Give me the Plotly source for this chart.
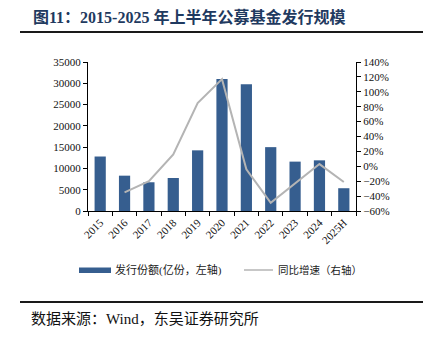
import plotly.graph_objects as go

categories = ["2015", "2016", "2017", "2018", "2019", "2020", "2021", "2022", "2023", "2024", "2025H"]
issuance = [12800, 8300, 6750, 7750, 14250, 31000, 29750, 15000, 11600, 11900, 5350]
yoy_cats = ["2016", "2017", "2018", "2019", "2020", "2021", "2022", "2023", "2024", "2025H"]
yoy = [-35, -20, 16, 85, 117, -4, -49, -23, 3, -21]

W, H = 427, 337
L, R, T, B = 88, 356, 62, 211

def px(x):
    return (x - L) / (R - L)

def py(y):
    return (B - y) / (B - T)

serif = "Liberation Serif, Times New Roman, Noto Sans CJK SC, serif"
cjk = "Liberation Serif, Noto Sans CJK SC, serif"

fig = go.Figure()
fig.add_trace(go.Bar(x=categories, y=issuance, marker=dict(color="#365E8F", line=dict(width=0)),
                     width=0.46, name="发行份额(亿份，左轴)", showlegend=False))
fig.add_trace(go.Scatter(x=yoy_cats, y=yoy, yaxis="y2", mode="lines",
                         line=dict(color="#B4B4B4", width=2), name="同比增速（右轴）", showlegend=False))

shapes = [
    dict(type="line", xref="paper", yref="paper", x0=px(20), x1=px(423), y0=py(32), y1=py(32),
         line=dict(color="#1a1a1a", width=2)),
    dict(type="line", xref="paper", yref="paper", x0=px(20), x1=px(423), y0=py(302), y1=py(302),
         line=dict(color="#1a1a1a", width=2)),
    dict(type="rect", xref="paper", yref="paper", x0=px(79), x1=px(111), y0=py(273), y1=py(267.5),
         fillcolor="#365E8F", line=dict(width=0)),
    dict(type="line", xref="paper", yref="paper", x0=px(244), x1=px(273), y0=py(270), y1=py(270),
         line=dict(color="#B4B4B4", width=1.5)),
]

annotations = [
    dict(text="<b>图11：2015-2025 年上半年公募基金发行规模</b>", xref="paper", yref="paper",
         x=px(31), y=py(17), xanchor="left", yanchor="middle", showarrow=False,
         font=dict(family=cjk, size=16, color="#1F3A60")),
    dict(text="发行份额(亿份，左轴)", xref="paper", yref="paper", x=px(113), y=py(270),
         xanchor="left", yanchor="middle", showarrow=False, font=dict(family=cjk, size=11, color="#222")),
    dict(text="同比增速（右轴）", xref="paper", yref="paper", x=px(276), y=py(270),
         xanchor="left", yanchor="middle", showarrow=False, font=dict(family=cjk, size=10.5, color="#222")),
    dict(text="数据来源：Wind，东吴证券研究所", xref="paper", yref="paper", x=px(29), y=py(319),
         xanchor="left", yanchor="middle", showarrow=False, font=dict(family=cjk, size=15, color="#111")),
]

fig.update_layout(
    width=W, height=H,
    margin=dict(l=L, r=W - R, t=T, b=H - B, pad=0),
    paper_bgcolor="white", plot_bgcolor="white",
    bargap=0.54,
    showlegend=False,
    font=dict(family=serif, color="#111"),
    xaxis=dict(type="category", tickangle=-45, showgrid=False, showline=True, linecolor="#000",
               linewidth=1, ticks="outside", tickson="boundaries", ticklen=4, tickcolor="#000",
               tickfont=dict(family=serif, size=11, color="#111"), range=[-0.5, 10.5]),
    yaxis=dict(range=[0, 35000], dtick=5000, showgrid=False, showline=True, linecolor="#000",
               linewidth=1, ticks="outside", ticklen=4, tickcolor="#000", zeroline=False,
               tickfont=dict(family=serif, size=11, color="#111"), tickformat="d"),
    yaxis2=dict(range=[-60, 140], dtick=20, overlaying="y", side="right", showgrid=False,
                showline=True, linecolor="#000", linewidth=1, ticks="outside", ticklen=4,
                tickcolor="#000", zeroline=False, ticksuffix="%",
                tickfont=dict(family=serif, size=11, color="#111")),
    shapes=shapes,
    annotations=annotations,
)

fig.write_html("out.html")
